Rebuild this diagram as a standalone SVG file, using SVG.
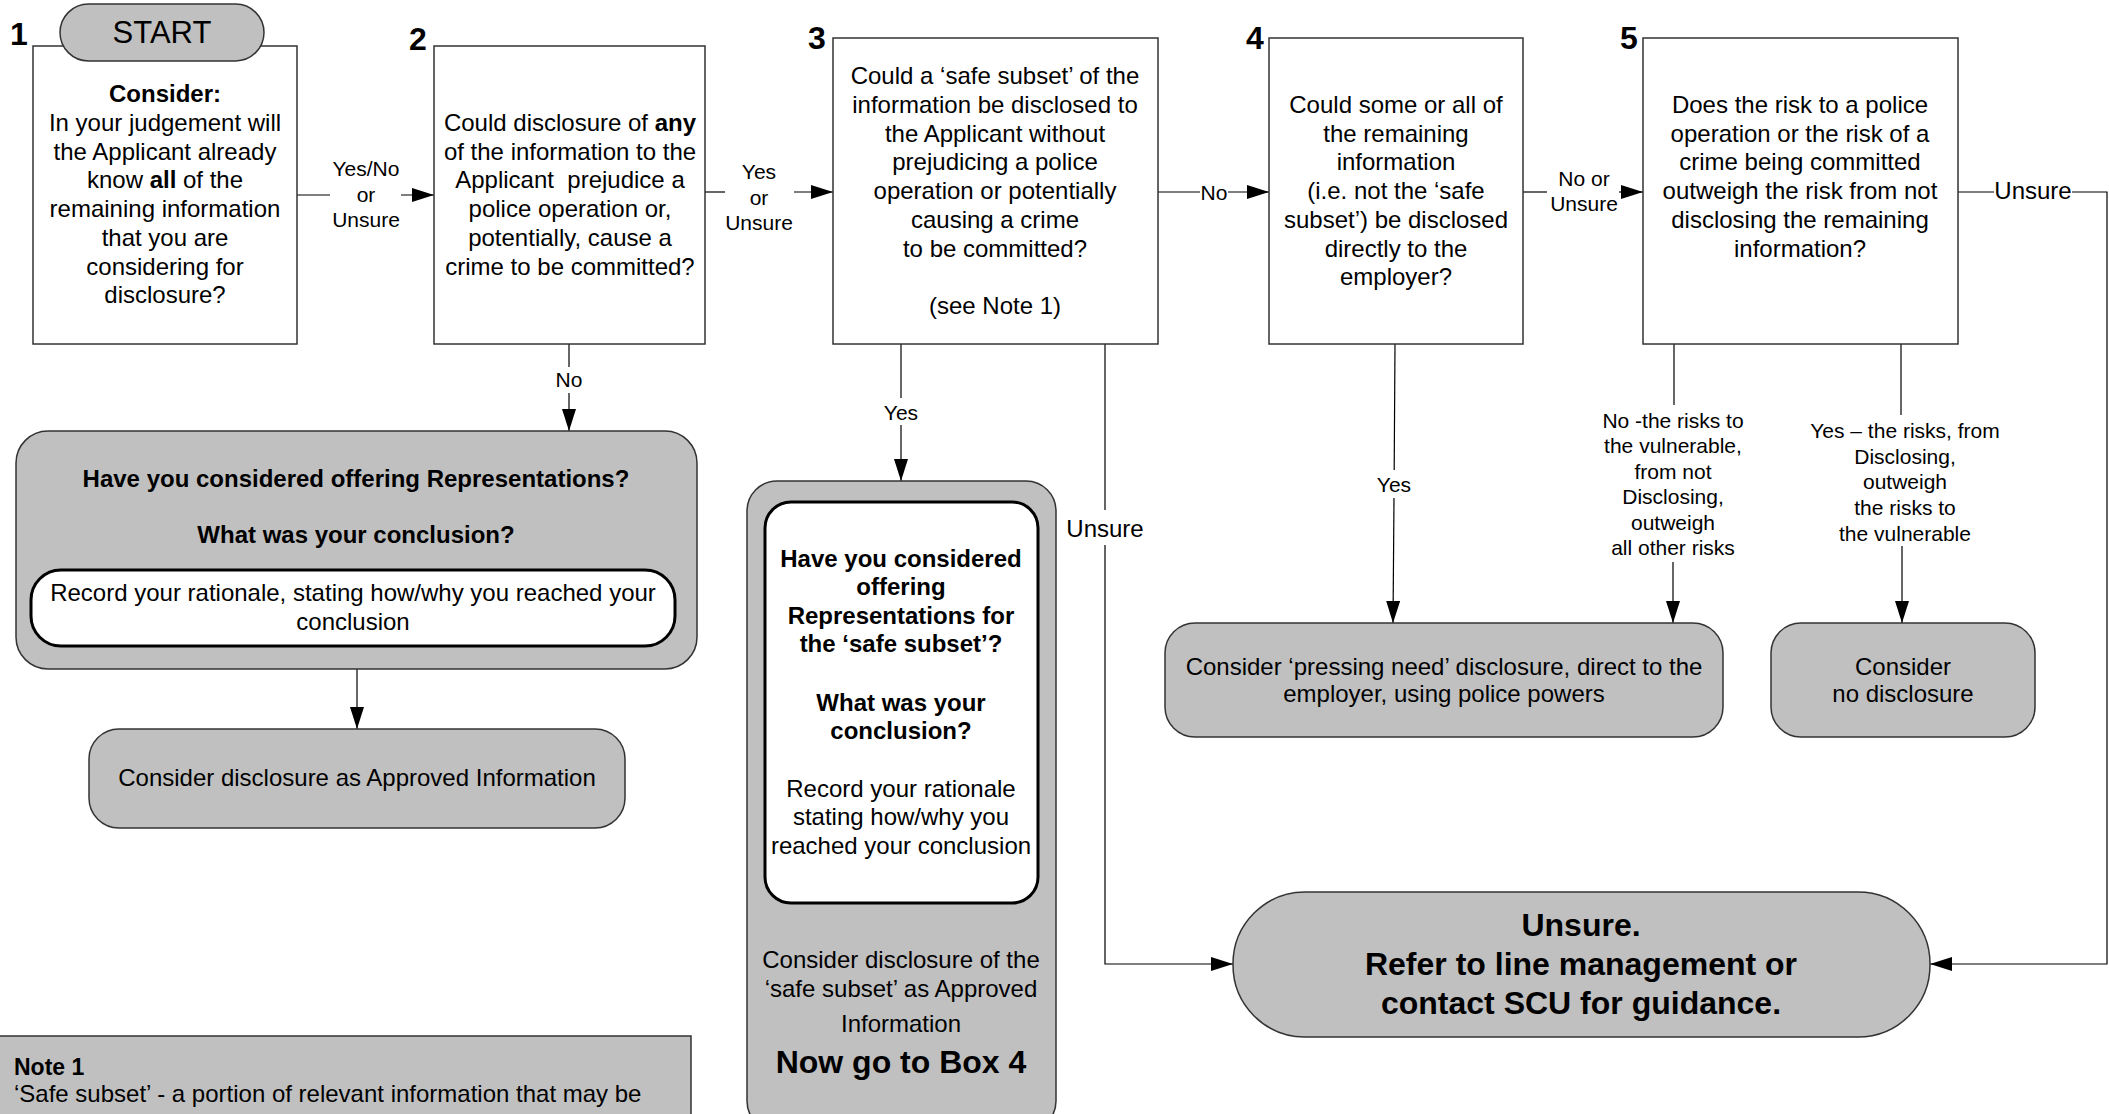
<svg xmlns="http://www.w3.org/2000/svg" width="2109" height="1114" viewBox="0 0 2109 1114">
<defs>
<marker id="ah" viewBox="0 0 22 14" refX="22" refY="7" markerWidth="22" markerHeight="14" markerUnits="userSpaceOnUse" orient="auto"><path d="M0,0 L22,7 L0,14 z" fill="#000"/></marker>
</defs>
<style>
text{font-family:"Liberation Sans",Arial,sans-serif;fill:#000}
.t{font-size:24px;text-anchor:middle}
.l{font-size:21px;text-anchor:middle}
.lu{font-size:24px;text-anchor:middle}
.b{font-weight:bold}
.num{font-size:32px;font-weight:bold}
.big{font-size:32px;font-weight:bold;text-anchor:middle}
.q{fill:#fff;stroke:#333;stroke-width:1.5}
.g{fill:#c0c0c0;stroke:#333;stroke-width:1.5}
.w{fill:#fff;stroke:#000;stroke-width:3}
.c{fill:none;stroke:#000;stroke-width:1.2}
</style>
<rect x="0" y="0" width="2109" height="1114" fill="#fff"/>

<g id="connectors">
  <!-- 1 -> 2 -->
  <line class="c" x1="297" y1="195" x2="330" y2="195"/>
  <line class="c" x1="401" y1="195" x2="434" y2="195" marker-end="url(#ah)"/>
  <text class="l" x="366" y="176">Yes/No</text>
  <text class="l" x="366" y="202">or</text>
  <text class="l" x="366" y="227">Unsure</text>
  <!-- 2 -> 3 -->
  <line class="c" x1="705" y1="192" x2="725" y2="192"/>
  <line class="c" x1="794" y1="192" x2="833" y2="192" marker-end="url(#ah)"/>
  <text class="l" x="759" y="179">Yes</text>
  <text class="l" x="759" y="205">or</text>
  <text class="l" x="759" y="230">Unsure</text>
  <!-- 3 -> 4 -->
  <line class="c" x1="1158" y1="192" x2="1200" y2="192"/>
  <line class="c" x1="1228" y1="192" x2="1269" y2="192" marker-end="url(#ah)"/>
  <text class="l" x="1214" y="199.5">No</text>
  <!-- 4 -> 5 -->
  <line class="c" x1="1523" y1="192" x2="1547" y2="192"/>
  <line class="c" x1="1619" y1="192" x2="1643" y2="192" marker-end="url(#ah)"/>
  <text class="l" x="1584" y="185.5">No or</text>
  <text class="l" x="1584" y="210.5">Unsure</text>
  <!-- 5 -> Unsure pill -->
  <line class="c" x1="1958" y1="192" x2="1994" y2="192"/>
  <polyline class="c" points="2072,192 2107,192 2107,964 1930,964" marker-end="url(#ah)"/>
  <text class="lu" x="2033" y="198.5">Unsure</text>
  <!-- 2 No -> representations -->
  <line class="c" x1="569" y1="344" x2="569" y2="367"/>
  <line class="c" x1="569" y1="393" x2="569" y2="431" marker-end="url(#ah)"/>
  <text class="l" x="569" y="386.5">No</text>
  <!-- reps -> approved -->
  <line class="c" x1="357" y1="669" x2="357" y2="729" marker-end="url(#ah)"/>
  <!-- 3 Yes -->
  <line class="c" x1="901" y1="344" x2="901" y2="398"/>
  <line class="c" x1="901" y1="425" x2="901" y2="481" marker-end="url(#ah)"/>
  <text class="l" x="901" y="419.5">Yes</text>
  <!-- 3 Unsure -->
  <line class="c" x1="1105" y1="344" x2="1105" y2="510"/>
  <polyline class="c" points="1105,545 1105,964 1233,964" marker-end="url(#ah)"/>
  <text class="lu" x="1105" y="537">Unsure</text>
  <!-- 4 Yes -->
  <line class="c" x1="1395" y1="344" x2="1394.2" y2="470"/>
  <line class="c" x1="1394" y1="498" x2="1393" y2="623" marker-end="url(#ah)"/>
  <text class="l" x="1394" y="491.5">Yes</text>
  <!-- 5 No -->
  <line class="c" x1="1674" y1="344" x2="1674" y2="405"/>
  <line class="c" x1="1673" y1="562" x2="1673" y2="623" marker-end="url(#ah)"/>
  <text class="l" x="1673" y="428">No -the risks to</text>
  <text class="l" x="1673" y="453">the vulnerable,</text>
  <text class="l" x="1673" y="479">from not</text>
  <text class="l" x="1673" y="504">Disclosing,</text>
  <text class="l" x="1673" y="530">outweigh</text>
  <text class="l" x="1673" y="555">all other risks</text>
  <!-- 5 Yes -->
  <line class="c" x1="1901" y1="344" x2="1901" y2="415"/>
  <line class="c" x1="1902" y1="546" x2="1902" y2="623" marker-end="url(#ah)"/>
  <text class="l" x="1905" y="438">Yes – the risks, from</text>
  <text class="l" x="1905" y="464">Disclosing,</text>
  <text class="l" x="1905" y="489">outweigh</text>
  <text class="l" x="1905" y="515">the risks to</text>
  <text class="l" x="1905" y="541">the vulnerable</text>
</g>

<g id="box1">
  <rect class="q" x="33" y="46" width="264" height="298"/>
  <rect class="g" x="60" y="4" width="204" height="57" rx="28.5"/>
  <text x="162" y="43" font-size="31" text-anchor="middle">START</text>
  <text class="num" x="10" y="45">1</text>
  <text class="t" x="165" y="102"><tspan class="b">Consider:</tspan></text>
  <text class="t" x="165" y="131">In your judgement will</text>
  <text class="t" x="165" y="160">the Applicant already</text>
  <text class="t" x="165" y="188">know <tspan class="b">all</tspan> of the</text>
  <text class="t" x="165" y="217">remaining information</text>
  <text class="t" x="165" y="246">that you are</text>
  <text class="t" x="165" y="275">considering for</text>
  <text class="t" x="165" y="303">disclosure?</text>
</g>

<g id="box2">
  <rect class="q" x="434" y="46" width="271" height="298"/>
  <text class="num" x="409" y="50">2</text>
  <text class="t" x="570" y="131">Could disclosure of <tspan class="b">any</tspan></text>
  <text class="t" x="570" y="160">of the information to the</text>
  <text class="t" x="570" y="188" xml:space="preserve">Applicant  prejudice a</text>
  <text class="t" x="570" y="217">police operation or,</text>
  <text class="t" x="570" y="246">potentially, cause a</text>
  <text class="t" x="570" y="275">crime to be committed?</text>
</g>

<g id="box3">
  <rect class="q" x="833" y="38" width="325" height="306"/>
  <text class="num" x="808" y="49">3</text>
  <text class="t" x="995" y="84">Could a ‘safe subset’ of the</text>
  <text class="t" x="995" y="113">information be disclosed to</text>
  <text class="t" x="995" y="142">the Applicant without</text>
  <text class="t" x="995" y="170">prejudicing a police</text>
  <text class="t" x="995" y="199">operation or potentially</text>
  <text class="t" x="995" y="228">causing a crime</text>
  <text class="t" x="995" y="257">to be committed?</text>
  <text class="t" x="995" y="314">(see Note 1)</text>
</g>

<g id="box4">
  <rect class="q" x="1269" y="38" width="254" height="306"/>
  <text class="num" x="1246" y="49">4</text>
  <text class="t" x="1396" y="113">Could some or all of</text>
  <text class="t" x="1396" y="142">the remaining</text>
  <text class="t" x="1396" y="170">information</text>
  <text class="t" x="1396" y="199">(i.e. not the ‘safe</text>
  <text class="t" x="1396" y="228">subset’) be disclosed</text>
  <text class="t" x="1396" y="257">directly to the</text>
  <text class="t" x="1396" y="285">employer?</text>
</g>

<g id="box5">
  <rect class="q" x="1643" y="38" width="315" height="306"/>
  <text class="num" x="1620" y="49">5</text>
  <text class="t" x="1800" y="113">Does the risk to a police</text>
  <text class="t" x="1800" y="142">operation or the risk of a</text>
  <text class="t" x="1800" y="170">crime being committed</text>
  <text class="t" x="1800" y="199">outweigh the risk from not</text>
  <text class="t" x="1800" y="228">disclosing the remaining</text>
  <text class="t" x="1800" y="257">information?</text>
</g>

<g id="representations">
  <rect class="g" x="16" y="431" width="681" height="238" rx="32"/>
  <text class="t b" x="356" y="487">Have you considered offering Representations?</text>
  <text class="t b" x="356" y="543">What was your conclusion?</text>
  <rect class="w" x="31" y="570" width="644" height="76" rx="30"/>
  <text class="t" x="353" y="601">Record your rationale, stating how/why you reached your</text>
  <text class="t" x="353" y="630">conclusion</text>
</g>

<g id="approved">
  <rect class="g" x="89" y="729" width="536" height="99" rx="30"/>
  <text class="t" x="357" y="786">Consider disclosure as Approved Information</text>
</g>

<g id="safesubset">
  <rect class="g" x="747" y="481" width="309" height="650" rx="30"/>
  <rect class="w" x="765" y="502" width="273" height="401" rx="26"/>
  <text class="t b" x="901" y="567">Have you considered</text>
  <text class="t b" x="901" y="595">offering</text>
  <text class="t b" x="901" y="624">Representations for</text>
  <text class="t b" x="901" y="652">the ‘safe subset’?</text>
  <text class="t b" x="901" y="711">What was your</text>
  <text class="t b" x="901" y="739">conclusion?</text>
  <text class="t" x="901" y="797">Record your rationale</text>
  <text class="t" x="901" y="825">stating how/why you</text>
  <text class="t" x="901" y="854">reached your conclusion</text>
  <text class="t" x="901" y="968">Consider disclosure of the</text>
  <text class="t" x="901" y="997">‘safe subset’ as Approved</text>
  <text class="t" x="901" y="1032">Information</text>
  <text class="big" x="901" y="1073">Now go to Box 4</text>
</g>

<g id="pressingneed">
  <rect class="g" x="1165" y="623" width="558" height="114" rx="30"/>
  <text class="t" x="1444" y="675">Consider ‘pressing need’ disclosure, direct to the</text>
  <text class="t" x="1444" y="702">employer, using police powers</text>
</g>

<g id="nodisclosure">
  <rect class="g" x="1771" y="623" width="264" height="114" rx="30"/>
  <text class="t" x="1903" y="675">Consider</text>
  <text class="t" x="1903" y="702">no disclosure</text>
</g>

<g id="unsure">
  <rect class="g" x="1233" y="892" width="697" height="145" rx="72"/>
  <text class="big" x="1581" y="936">Unsure.</text>
  <text class="big" x="1581" y="975">Refer to line management or</text>
  <text class="big" x="1581" y="1014">contact SCU for guidance.</text>
</g>

<g id="note1">
  <rect class="g" x="-2" y="1036" width="693" height="100"/>
  <text x="14" y="1075" font-size="23" font-weight="bold">Note 1</text>
  <text x="14" y="1102" font-size="24">‘Safe subset’ - a portion of relevant information that may be</text>
</g>
</svg>
